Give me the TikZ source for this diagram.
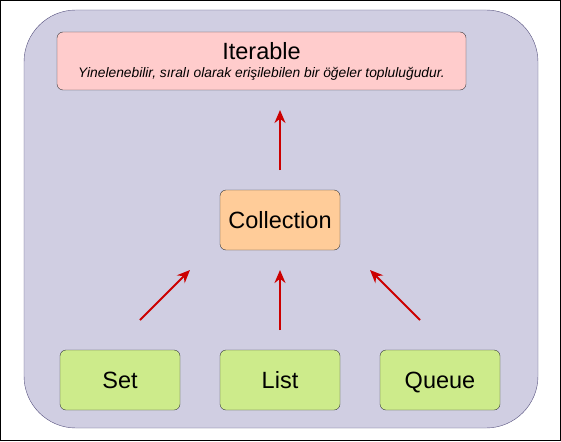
\documentclass[tikz,border=0pt]{standalone}
\usepackage{fontspec}
\setmainfont{Liberation Sans}
\usetikzlibrary{arrows.meta}
\definecolor{frameFill}{HTML}{D0CEE2}
\definecolor{frameLine}{HTML}{56517E}
\definecolor{redFill}{HTML}{FFCCCC}
\definecolor{orangeFill}{HTML}{FFCC99}
\definecolor{greenFill}{HTML}{CDEB8B}
\definecolor{boxLine}{HTML}{36393D}
\definecolor{arrowRed}{HTML}{CC0000}
\begin{document}
\begin{tikzpicture}[x=1pt, y=-1pt,
    every node/.style = {shape=rectangle, rounded corners=6pt,
      draw=boxLine, align=center, font=\fontsize{23.5}{27}\selectfont},
    classbox/.style = {minimum width=120pt, minimum height=60pt,
      text height=19pt, text depth=3pt},
    link/.style = {draw=arrowRed, line width=2pt, -{Stealth[length=13pt, width=11pt]}}]
    \useasboundingbox (0,0) rectangle (561,441);
    \draw[line width=1pt] (0.5,0.5) rectangle (560.5,440.5);
    \draw[frameLine, fill=frameFill, rounded corners=52pt] (24,10) rectangle (538,428);
    \node[fill=redFill, minimum width=409pt, minimum height=58pt] (iterable) at (261.5,61)
        {Iterable\\[-9pt]{\fontsize{13.8}{16}\itshape Yinelenebilir, sıralı olarak erişilebilen bir öğeler topluluğudur.}};
    \node[classbox, fill=orangeFill] (collection) at (280,220) {Collection};
    \node[classbox, fill=greenFill] (set) at (120,380) {Set};
    \node[classbox, fill=greenFill] (list) at (280,380) {List};
    \node[classbox, fill=greenFill] (queue) at (440,380) {Queue};
    % arrow ends, free of the boxes
    \coordinate (up0) at (280,170); \coordinate (up1) at (280,110);
    \coordinate (s0) at (140,320); \coordinate (s1) at (190,270);
    \coordinate (l0) at (280,330); \coordinate (l1) at (280,270);
    \coordinate (q0) at (420,320); \coordinate (q1) at (370,270);
    \draw[link] (up0) -- (up1);
    \draw[link] (s0) -- (s1);
    \draw[link] (l0) -- (l1);
    \draw[link] (q0) -- (q1);
  \end{tikzpicture}
\end{document}
